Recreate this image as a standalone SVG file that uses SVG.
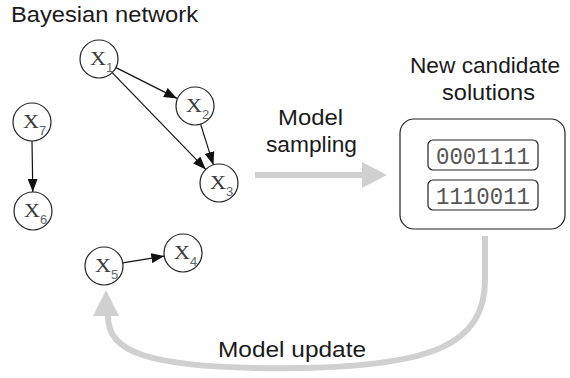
<svg xmlns="http://www.w3.org/2000/svg" width="570" height="378" viewBox="0 0 570 378">
<style>
.lbl{font-family:"Liberation Sans",Arial,sans-serif;font-size:22px;fill:#1a1a1a}
.node circle{fill:#fff;stroke:#222;stroke-width:1.2}
.nx{font-family:"Liberation Serif","Times New Roman",serif;font-size:19px;fill:#3a3a3a}
.sub{font-family:"Liberation Sans",Arial,sans-serif;font-size:13px;fill:#666}
.edge{stroke:#111;stroke-width:1.2;fill:none;marker-end:url(#ah)}
.big{stroke:#d0d0d0;stroke-width:6;fill:none}
.bigh{fill:#d0d0d0}
.bits{font-family:"Liberation Mono","Courier New",monospace;font-size:24px;fill:#555}
.box{fill:#fff;stroke:#222;stroke-width:1.2}
</style>
<defs>
<marker id="ah" markerUnits="userSpaceOnUse" markerWidth="13" markerHeight="10" refX="13" refY="5" orient="auto">
<path d="M0,0 L13,5 L0,10 z" fill="#111"/>
</marker>
</defs>
<text class="lbl" x="11" y="22" textLength="187" lengthAdjust="spacingAndGlyphs">Bayesian network</text>
<g id="connectors">
<line class="edge" x1="116" y1="67.6" x2="177" y2="98.4"/>
<line class="edge" x1="112.2" y1="72.6" x2="205.8" y2="169.4"/>
<line class="edge" x1="200.6" y1="124.1" x2="213.4" y2="164.9"/>
<line class="edge" x1="32" y1="141" x2="32.8" y2="192"/>
<line class="edge" x1="122.7" y1="262.9" x2="164.3" y2="256.1"/>
</g>
<g id="n1" class="node"><circle cx="99" cy="59" r="19"/><text class="nx" x="90" y="65" textLength="16" lengthAdjust="spacingAndGlyphs">X</text><text class="sub" x="106" y="72">1</text></g>
<g id="n2" class="node"><circle cx="195" cy="106" r="19"/><text class="nx" x="186" y="112" textLength="16" lengthAdjust="spacingAndGlyphs">X</text><text class="sub" x="202" y="119">2</text></g>
<g id="n3" class="node"><circle cx="219" cy="183" r="19"/><text class="nx" x="210" y="189" textLength="16" lengthAdjust="spacingAndGlyphs">X</text><text class="sub" x="226" y="196">3</text></g>
<g id="n7" class="node"><circle cx="32" cy="122" r="19"/><text class="nx" x="23" y="128" textLength="16" lengthAdjust="spacingAndGlyphs">X</text><text class="sub" x="39" y="135">7</text></g>
<g id="n6" class="node"><circle cx="33" cy="211" r="19"/><text class="nx" x="24" y="217" textLength="16" lengthAdjust="spacingAndGlyphs">X</text><text class="sub" x="40" y="224">6</text></g>
<g id="n5" class="node"><circle cx="104" cy="266" r="19"/><text class="nx" x="95" y="272" textLength="16" lengthAdjust="spacingAndGlyphs">X</text><text class="sub" x="111" y="279">5</text></g>
<g id="n4" class="node"><circle cx="183" cy="253" r="19"/><text class="nx" x="174" y="259" textLength="16" lengthAdjust="spacingAndGlyphs">X</text><text class="sub" x="190" y="266">4</text></g>
<g id="sampling">
<line class="big" x1="255" y1="175" x2="364" y2="175"/>
<polygon class="bigh" points="362,162 387,175 362,188"/>
<text class="lbl" x="278" y="125" textLength="65" lengthAdjust="spacingAndGlyphs">Model</text>
<text class="lbl" x="266" y="152" textLength="91" lengthAdjust="spacingAndGlyphs">sampling</text>
</g>
<g id="solutions">
<text class="lbl" x="410" y="73" textLength="150" lengthAdjust="spacingAndGlyphs">New candidate</text>
<text class="lbl" x="442" y="100" textLength="93" lengthAdjust="spacingAndGlyphs">solutions</text>
<rect class="box" x="400" y="119" width="165" height="110" rx="14" ry="14"/>
<rect class="box" x="428" y="140" width="110" height="30" rx="5" ry="5"/>
<rect class="box" x="428" y="180" width="110" height="30" rx="5" ry="5"/>
<text class="bits" x="436" y="163.5" textLength="94" lengthAdjust="spacingAndGlyphs">0001111</text>
<text class="bits" x="436" y="203.5" textLength="94" lengthAdjust="spacingAndGlyphs">1110011</text>
</g>
<g id="update">
<path class="big" d="M485,236 L485,280 C485,345 430,366 300,368 C140,370 108,350 108,316"/>
<polygon class="bigh" points="106,290 93,316 119,316"/>
<text class="lbl" x="218" y="357" textLength="148" lengthAdjust="spacingAndGlyphs">Model update</text>
</g>
</svg>
